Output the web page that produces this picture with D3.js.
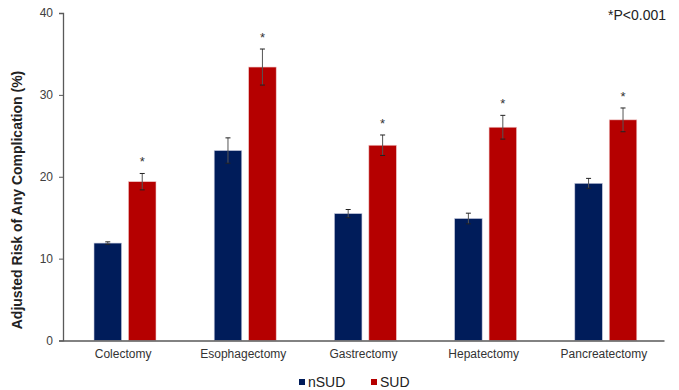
<!DOCTYPE html>
<html>
<head>
<meta charset="utf-8">
<script src="https://cdn.jsdelivr.net/npm/d3@7"></script>
<style>
  body { margin: 0; background: #fff; }
  #vis { width: 679px; height: 390px; }
  text { font-family: "Liberation Sans", Arial, sans-serif; }
</style>
</head>
<body>
<div id="vis"></div>
<script>
var categories = ["Colectomy", "Esophagectomy", "Gastrectomy", "Hepatectomy", "Pancreatectomy"];
var seriesNames = ["nSUD", "SUD"];
var nsudValues = [11.9, 23.2, 15.5, 14.9, 19.2];
var nsudErrors = [0.15, 1.55, 0.5, 0.65, 0.6];
var sudValues = [19.4, 33.4, 23.85, 26.05, 26.95];
var sudErrors = [1.0, 2.2, 1.25, 1.45, 1.45];
var yTicks = [0, 10, 20, 30, 40];

var colours = { nSUD: "#001c5a", SUD: "#b50000" };

var width = 679, height = 390;
var margin = { top: 13, left: 63 };

var svg = d3.select('#vis')
  .append('svg')
  .attr('width', width)
  .attr('height', height);

var g = svg.append('g')
  .attr('transform', 'translate(' + margin.left + ',' + margin.top + ')');

var x_scale = d3.scaleBand()
  .domain(categories)
  .range([0, 601])
  .padding(0);

var x_inner = d3.scaleBand()
  .domain(seriesNames)
  .range([31, 93])
  .paddingInner(0.2);

var y_scale = d3.scaleLinear()
  .domain([0, 40])
  .range([327.5, 0]);

// table for drawing
var rows = [];
categories.forEach(function(c, i) {
  rows.push({ cat: c, s: "nSUD", v: nsudValues[i], e: nsudErrors[i], star: false });
  rows.push({ cat: c, s: "SUD", v: sudValues[i], e: sudErrors[i], star: true });
});

// y axis
var y_axis = d3.axisLeft(y_scale).tickValues(yTicks).tickSize(4).tickPadding(6);
var ya = g.append('g').attr('class', 'y axis').call(y_axis);
ya.select('.domain').attr('stroke', '#595959').attr('stroke-width', 1.3);
ya.selectAll('.tick line').attr('stroke', '#595959');
ya.selectAll('.tick text').attr('fill', '#404040').style('font-size', '12px');

// bars
g.selectAll('.bar')
  .data(rows)
  .enter()
  .append('rect')
  .attr('class', 'bar')
  .attr('x', function(d) { return x_scale(d.cat) + x_inner(d.s); })
  .attr('width', x_inner.bandwidth())
  .attr('y', function(d) { return y_scale(d.v); })
  .attr('height', function(d) { return y_scale(0) - y_scale(d.v); })
  .attr('fill', function(d) { return colours[d.s]; })
  .attr('stroke', function(d) { return d.s === 'SUD' ? '#f0c8c8' : '#c8cce0'; })
  .attr('stroke-width', 0.6);

// error bars
var eb = g.selectAll('.err')
  .data(rows)
  .enter()
  .append('g')
  .attr('class', 'err')
  .attr('stroke', '#222')
  .attr('stroke-width', 1);

function cx(d) { return x_scale(d.cat) + x_inner(d.s) + x_inner.bandwidth() / 2; }

eb.append('line')
  .attr('x1', cx).attr('x2', cx)
  .attr('y1', function(d) { return y_scale(d.v + d.e); })
  .attr('y2', function(d) { return y_scale(d.v - d.e); })
  .attr('stroke', '#555');
eb.append('line')
  .attr('x1', function(d) { return cx(d) - 2.5; }).attr('x2', function(d) { return cx(d) + 2.5; })
  .attr('y1', function(d) { return y_scale(d.v + d.e); })
  .attr('y2', function(d) { return y_scale(d.v + d.e); });
eb.append('line')
  .attr('x1', function(d) { return cx(d) - 2.5; }).attr('x2', function(d) { return cx(d) + 2.5; })
  .attr('y1', function(d) { return y_scale(d.v - d.e); })
  .attr('y2', function(d) { return y_scale(d.v - d.e); });

// significance stars
g.selectAll('.star')
  .data(rows.filter(function(d) { return d.star; }))
  .enter()
  .append('text')
  .attr('class', 'star')
  .attr('x', cx)
  .attr('y', function(d) { return y_scale(d.v + d.e) - 7; })
  .attr('text-anchor', 'middle')
  .attr('fill', '#333')
  .style('font-size', '13px')
  .text('*');

// x axis
var x_axis = d3.axisBottom(x_scale).tickSize(0).tickPadding(9);
var xa = g.append('g')
  .attr('class', 'x axis')
  .attr('transform', 'translate(0,' + y_scale(0) + ')')
  .call(x_axis);
xa.select('.domain').attr('stroke', '#595959').attr('stroke-width', 1.3);
xa.selectAll('.tick text').attr('fill', '#333').style('font-size', '12px');

// y label
svg.append('text')
  .attr('text-anchor', 'middle')
  .attr('transform', 'translate(22,200)rotate(-90)')
  .style('font-size', '14px')
  .style('font-weight', 'bold')
  .attr('fill', '#222')
  .text('Adjusted Risk of Any Complication (%)');

// p-value note
svg.append('text')
  .attr('x', 666)
  .attr('y', 20)
  .attr('text-anchor', 'end')
  .style('font-size', '14px')
  .attr('fill', '#222')
  .text('*P<0.001');

// legend
var legend = svg.append('g')
  .attr('transform', 'translate(299,382)');
var li = legend.selectAll('.li')
  .data(seriesNames)
  .enter()
  .append('g')
  .attr('transform', function(d, i) { return 'translate(' + (i * 72) + ',0)'; });
li.append('rect')
  .attr('x', 0).attr('y', -3)
  .attr('width', 6).attr('height', 6)
  .attr('fill', function(d) { return colours[d]; });
li.append('text')
  .attr('x', 9).attr('y', 5)
  .style('font-size', '14px')
  .attr('fill', '#222')
  .text(function(d) { return d; });
</script>
</body>
</html>
